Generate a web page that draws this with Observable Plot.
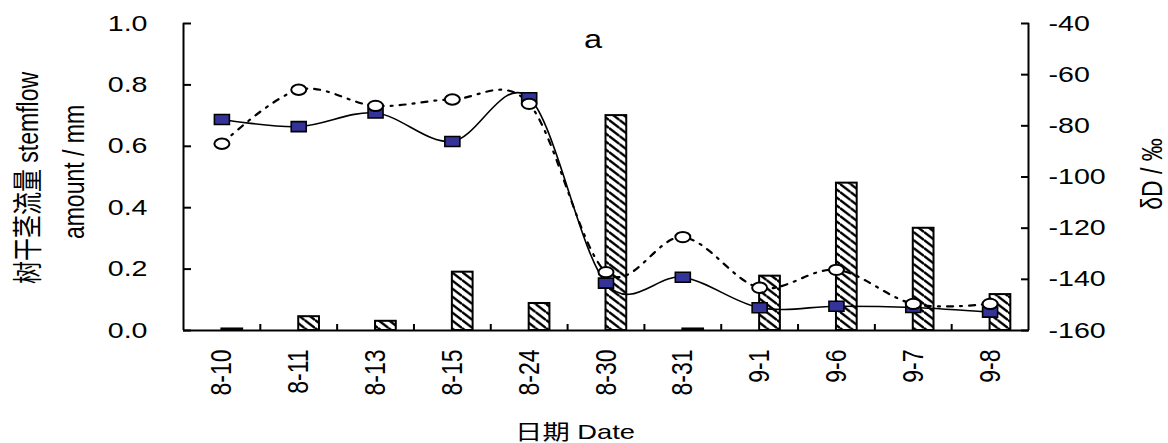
<!DOCTYPE html>
<html><head><meta charset="utf-8">
<script src="https://cdn.jsdelivr.net/npm/d3@7"></script>
<script src="https://cdn.jsdelivr.net/npm/@observablehq/plot@0.6"></script>
<style>html,body{margin:0;padding:0;background:#fff;overflow:hidden}</style>
</head><body><div id="chart"></div>
<script>
// ---- data ----
const dates = ["8-10","8-11","8-13","8-15","8-24","8-30","8-31","9-1","9-6","9-7","9-8"];
const stemflowAmount = [0.005, 0.045, 0.03, 0.19, 0.088, 0.70, 0.005, 0.177, 0.48, 0.333, 0.117];
const deltaDSquares = [-77.5, -80.3, -75.0, -86.1, -69.0, -141.5, -139.2, -151.1, -150.5, -151.0, -152.8];
const deltaDCircles = [-87.0, -65.9, -72.2, -69.7, -71.4, -137.2, -123.5, -143.3, -136.3, -149.6, -149.6];
const leftTicks = [0, 0.2, 0.4, 0.6, 0.8, 1.0];
const rightTicks = [-160, -140, -120, -100, -80, -60, -40];
const leftTitle1 = "树干茎流量 stemflow";
const leftTitle2 = "amount / mm";
const rightTitle = "δD / ‰";
const xTitle = "日期 Date";
const panelLabel = "a";

// ---- helpers ----
const idx = dates.map((d, i) => i);
const xDomain = [-0.5, dates.length - 0.5];
const dMin = rightTicks[0], dMax = rightTicks[rightTicks.length - 1];
const toY = v => (v - dMin) / (dMax - dMin);
const fromY = p => String(Math.round(p * (dMax - dMin) + dMin));
const rightTickPos = rightTicks.map(toY);
const boundaries = idx.slice(1).map(i => i - 0.5);

const rectSymbol = {draw(ctx) { const w = 7.5, h = 5; ctx.moveTo(-w, -h); ctx.lineTo(w, -h); ctx.lineTo(w, h); ctx.lineTo(-w, h); ctx.closePath(); }};
const ellipseSymbol = {draw(ctx) {
  const rx = 7.5, ry = 5.2, k = 0.5523;
  ctx.moveTo(rx, 0);
  ctx.bezierCurveTo(rx, k*ry, k*rx, ry, 0, ry);
  ctx.bezierCurveTo(-k*rx, ry, -rx, k*ry, -rx, 0);
  ctx.bezierCurveTo(-rx, -k*ry, -k*rx, -ry, 0, -ry);
  ctx.bezierCurveTo(k*rx, -ry, rx, -k*ry, rx, 0);
  ctx.closePath();
}};

const svg = Plot.plot({
  width: 1168, height: 443,
  marginLeft: 183, marginRight: 140, marginTop: 23, marginBottom: 113,
  style: {fontFamily: "'Liberation Sans', Arial, 'Noto Sans CJK SC', sans-serif", fontSize: "22px", background: "white", color: "black"},
  x: {type: "linear", domain: xDomain},
  y: {domain: [0, 1]},
  marks: [
    Plot.rect(idx, {x1: i => i, x2: i => i + 0.27, y1: 0, y2: i => stemflowAmount[i], fill: "url(#hatch)", stroke: "black", strokeWidth: 2}),
    Plot.line(idx, {x: i => i, y: i => toY(deltaDSquares[i]), curve: "cardinal", stroke: "black", strokeWidth: 1.6}),
    Plot.line(idx, {x: i => i, y: i => toY(deltaDCircles[i]), curve: "cardinal", stroke: "black", strokeWidth: 2.2, strokeDasharray: "6,7,2,7"}),
    Plot.dot(idx, {x: i => i, y: i => toY(deltaDSquares[i]), symbol: rectSymbol, fill: "#333399", stroke: "black", strokeWidth: 1.6}),
    Plot.dot(idx, {x: i => i, y: i => toY(deltaDCircles[i]), symbol: ellipseSymbol, fill: "white", stroke: "black", strokeWidth: 2}),
    // axis lines
    Plot.ruleY([0], {stroke: "black", strokeWidth: 2}),
    Plot.ruleX(xDomain, {y1: 0, y2: 1, stroke: "black", strokeWidth: 2}),
    // left axis
    Plot.axisY({anchor: "left", ticks: leftTicks, tickFormat: d => d.toFixed(1), tickSize: 0, tickPadding: 36, fontSize: 22, label: null}),
    Plot.axisY({anchor: "left", ticks: leftTicks, tickSize: 8, dx: 8, fill: "none", label: null, strokeWidth: 2}),
    // right axis
    Plot.axisY({anchor: "right", ticks: rightTickPos, tickFormat: fromY, tickSize: 0, tickPadding: 20, fontSize: 22, label: null}),
    Plot.axisY({anchor: "right", ticks: rightTickPos, tickSize: 8, dx: -8, fill: "none", label: null, strokeWidth: 2}),
    // x axis
    Plot.axisX({anchor: "bottom", ticks: idx, tickFormat: i => dates[i], tickRotate: -90, tickSize: 0, tickPadding: 19, fontSize: 23, label: null}),
    Plot.axisX({anchor: "bottom", ticks: boundaries, tickSize: 6, dy: -6, fill: "none", label: null, strokeWidth: 2}),
    // titles
    Plot.text([leftTitle1], {frameAnchor: "left", textAnchor: "middle", lineAnchor: "middle", rotate: -90, dx: -155, dy: 1, fontSize: 23, fill: "black"}),
    Plot.text([leftTitle2], {frameAnchor: "left", textAnchor: "middle", lineAnchor: "middle", rotate: -90, dx: -109, dy: -5, fontSize: 23, fill: "black"}),
    Plot.text([rightTitle], {frameAnchor: "right", textAnchor: "middle", lineAnchor: "middle", rotate: -90, dx: 124, dy: -3, fontSize: 23, fill: "black"}),
    Plot.text([xTitle], {frameAnchor: "bottom", textAnchor: "middle", lineAnchor: "middle", dx: -31, dy: 102, fontSize: 21, fill: "black"}),
    Plot.text([panelLabel], {frameAnchor: "top", textAnchor: "middle", lineAnchor: "bottom", dx: -13, dy: 24, fontSize: 25, fill: "black"})
  ]
});

// hatch pattern (downward diagonal stripes)
const NS = "http://www.w3.org/2000/svg";
const defs = document.createElementNS(NS, "defs");
defs.innerHTML = `<pattern id="hatch" patternUnits="userSpaceOnUse" width="10.5" height="8">
  <rect width="10.5" height="8" fill="white"/>
  <path d="M0,0 L10.5,8 M0,-8 L10.5,0 M0,8 L10.5,16" stroke="black" stroke-width="2.4"/>
</pattern>`;
svg.insertBefore(defs, svg.firstChild);

document.getElementById("chart").appendChild(svg);

// horizontal stretch of text to match the reference
const S = 1.3;
svg.querySelectorAll("text").forEach(t => {
  const tr = t.getAttribute("transform") || "";
  const fs = parseFloat(getComputedStyle(t).fontSize);
  if (tr.includes("rotate")) {
    t.style.fontSize = (fs * S) + "px";
    const L = t.getComputedTextLength();
    t.setAttribute("textLength", L / S);
  } else {
    const L = t.getComputedTextLength();
    t.setAttribute("textLength", L * S);
  }
  t.setAttribute("lengthAdjust", "spacingAndGlyphs");
});
</script>
</body></html>
